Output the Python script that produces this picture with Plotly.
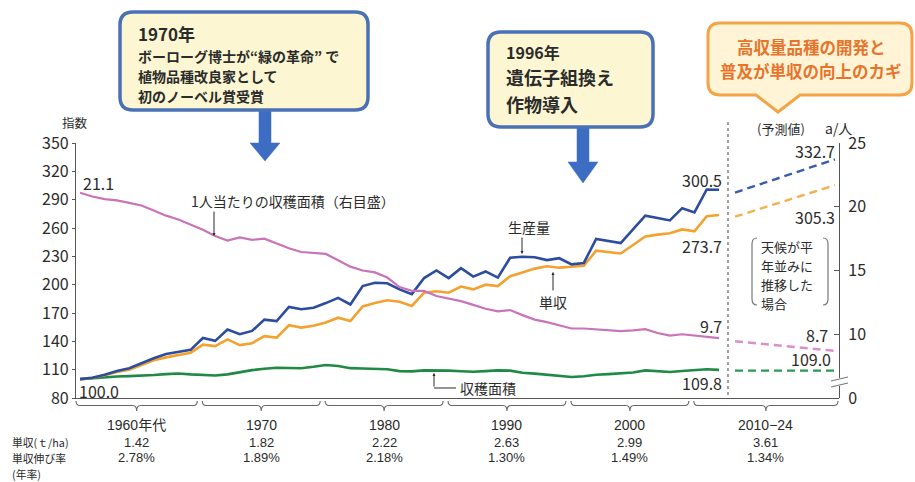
import plotly.graph_objects as go

FONT = "Noto Sans CJK JP"
NUM_FONT = "Liberation Sans"
INK = "#2b2b2b"
AXIS = "#555555"

# ---- world cereal indices (1961 = 100) and harvested area per person (a/person)
years = list(range(1961, 2014))
production = [100.0, 101.5, 104.5, 108.5, 111.5, 117.0, 122.0, 126.5, 129.0, 131.0,
              143.5, 140.5, 152.5, 147.5, 151.0, 163.0, 161.5, 176.5, 174.0, 175.5,
              180.5, 186.0, 179.0, 198.5, 202.0, 201.5, 195.0, 190.0, 207.0, 215.0,
              207.0, 217.5, 208.5, 214.0, 207.5, 228.5, 229.5, 229.0, 226.0, 228.0,
              221.5, 223.0, 248.5, 246.5, 244.0, 258.5, 273.0, 270.5, 268.0, 281.0,
              276.5, 300.8, 300.5]
yield_index = [100.0, 101.5, 104.0, 107.5, 110.0, 115.0, 120.0, 123.0, 125.5, 128.0,
               136.5, 135.0, 142.0, 136.0, 138.0, 145.5, 144.0, 157.0, 154.5, 156.5,
               160.0, 165.0, 161.5, 177.0, 180.5, 183.5, 182.0, 177.5, 191.5, 193.0,
               191.5, 198.0, 195.0, 200.0, 198.5, 209.0, 213.0, 217.0, 219.5, 218.0,
               219.0, 220.0, 236.0, 234.5, 233.0, 242.0, 251.0, 253.0, 254.5, 258.5,
               256.5, 272.5, 273.7]
harvest_area = [100.0, 101.2, 102.3, 102.8, 103.2, 103.5, 104.3, 105.3, 106.0, 105.0,
                104.4, 103.8, 105.0, 107.6, 109.5, 111.0, 112.0, 111.8, 111.5, 113.0,
                115.0, 113.8, 111.6, 111.3, 111.0, 110.5, 108.5, 108.2, 109.2, 109.5,
                109.0, 108.3, 107.8, 108.5, 109.3, 109.0, 106.8, 105.8, 104.6, 103.2,
                102.2, 103.0, 104.6, 105.3, 105.8, 107.0, 109.2, 108.6, 107.5, 108.6,
                109.8, 110.5, 109.8]
area_per_person = [21.1, 20.8, 20.6, 20.5, 20.3, 20.1, 19.7, 19.3, 19.0, 18.6,
                   18.2, 17.7, 17.35, 17.6, 17.4, 17.5, 17.1, 16.75, 16.45, 16.35,
                   16.3, 15.8, 15.3, 15.0, 14.85, 14.45, 13.7, 13.4, 13.4, 13.0,
                   12.8, 12.6, 12.3, 12.0, 11.8, 11.9, 11.5, 11.15, 10.95, 10.7,
                   10.45, 10.45, 10.4, 10.3, 10.25, 10.3, 10.4, 10.1, 9.9, 10.0,
                   9.9, 9.8, 9.7]

# ---- projection (normal weather)
proj_years = [2014, 2024]
proj_production = [297.5, 332.7]
proj_yield = [272.0, 305.3]
proj_area = [109.0, 109.0]
proj_per_person = [9.45, 8.7]

# ---- decade table under the axis
periods = ["1960年代", "1970", "1980", "1990", "2000", "2010−24"]
period_spans = [(1961, 1970), (1971, 1980), (1981, 1990), (1991, 2000), (2001, 2010), (2011, 2024)]
period_yield = ["1.42", "1.82", "2.22", "2.63", "2.99", "3.61"]
period_growth = ["2.78%", "1.89%", "2.18%", "1.30%", "1.49%", "1.34%"]
row_labels = ["単収(ｔ/ha)", "単収伸び率", "(年率)"]

left_ticks = list(range(80, 351, 30))
right_tickvals = [5, 10, 15, 20, 25]
right_ticktext = ["0", "10", "15", "20", "25"]

# ---- frame geometry (pixels)
W, H = 915, 482
ML, MR, MT, MB = 76, 76, 143, 84
PW, PH = W - ML - MR, H - MT - MB
BASE = H - MB
HIST_RANGE = [1960.67, 2013.73]
PROJ_RANGE = [2013.3, 2024.4]
SPLIT = (728 - ML) / PW


def px(x):
    return (x - ML) / PW


def py(y):
    return (BASE - y) / PH


def P(x, y):
    return f"{px(x):.5f},{py(y):.5f}"


def year_px(yr):
    if yr <= HIST_RANGE[1]:
        return ML + (yr - HIST_RANGE[0]) / (HIST_RANGE[1] - HIST_RANGE[0]) * SPLIT * PW
    return ML + SPLIT * PW + (yr - PROJ_RANGE[0]) / (PROJ_RANGE[1] - PROJ_RANGE[0]) * (1 - SPLIT) * PW


BLUE, ORANGE, PINK, GREEN = "#2c4c9e", "#f3a12f", "#c974b9", "#1f8a45"

fig = go.Figure()
common = dict(mode="lines", hoverinfo="skip", showlegend=False)
fig.add_trace(go.Scatter(x=years, y=area_per_person, xaxis="x", yaxis="y2",
                         line=dict(color=PINK, width=2.2), **common))
fig.add_trace(go.Scatter(x=years, y=harvest_area, line=dict(color=GREEN, width=2.6), **common))
fig.add_trace(go.Scatter(x=years, y=yield_index, line=dict(color=ORANGE, width=2.6), **common))
fig.add_trace(go.Scatter(x=years, y=production, line=dict(color=BLUE, width=2.6), **common))

DASH = "8px,5px"
fig.add_trace(go.Scatter(x=proj_years, y=proj_per_person, xaxis="x2", yaxis="y2",
                         line=dict(color="#d98fcb", width=2.4, dash=DASH), **common))
fig.add_trace(go.Scatter(x=proj_years, y=proj_area, xaxis="x2", yaxis="y",
                         line=dict(color="#2a9a55", width=2.4, dash=DASH), **common))
fig.add_trace(go.Scatter(x=proj_years, y=proj_yield, xaxis="x2", yaxis="y",
                         line=dict(color="#f2b04e", width=2.4, dash=DASH), **common))
fig.add_trace(go.Scatter(x=proj_years, y=proj_production, xaxis="x2", yaxis="y",
                         line=dict(color="#3a5cac", width=2.4, dash=DASH), **common))

shapes = []
anns = []


def text(s, x, y, size=14, color=INK, xa="left", ya="middle", bold=False, family=FONT):
    anns.append(dict(text=f"<b>{s}</b>" if bold else s, x=px(x), y=py(y),
                     xref="paper", yref="paper", xanchor=xa, yanchor=ya,
                     showarrow=False, font=dict(family=family, size=size, color=color)))


def path(d, line_color, width=1.0, fill=None, dash=None):
    shp = dict(type="path", path=d, xref="paper", yref="paper",
               line=dict(color=line_color, width=width))
    if fill:
        shp["fillcolor"] = fill
    if dash:
        shp["line"]["dash"] = dash
    shapes.append(shp)


def rounded_box(x0, y0, x1, y1, r, pointer=None):
    d = f"M{P(x0 + r, y0)} L{P(x1 - r, y0)} Q{P(x1, y0)} {P(x1, y0 + r)} L{P(x1, y1 - r)} Q{P(x1, y1)} {P(x1 - r, y1)} "
    if pointer:
        bx0, bx1, tx, ty = pointer
        d += f"L{P(bx1, y1)} L{P(tx, ty)} L{P(bx0, y1)} "
    d += f"L{P(x0 + r, y1)} Q{P(x0, y1)} {P(x0, y1 - r)} L{P(x0, y0 + r)} Q{P(x0, y0)} {P(x0 + r, y0)} Z"
    return d


def down_arrow(cx, top, neck, tip, stem=6, head=15):
    return (f"M{P(cx - stem, top)} L{P(cx + stem, top)} L{P(cx + stem, neck)} L{P(cx + head, neck)} "
            f"L{P(cx, tip)} L{P(cx - head, neck)} L{P(cx - stem, neck)} Z")


# ---- callouts
ARROW_BLUE = "#3d6dc2"
BOX_LINE = "#4a71b6"
BOX_FILL = "#fcf7d2"
path(down_arrow(265, 106, 143, 161), ARROW_BLUE, 0.5, ARROW_BLUE)
path(rounded_box(120, 12, 368, 110, 13), BOX_LINE, 3.5, BOX_FILL)
path(down_arrow(583, 123, 162, 183), ARROW_BLUE, 0.5, ARROW_BLUE)
path(rounded_box(488, 32, 653, 127, 13), BOX_LINE, 3.5, BOX_FILL)
path(rounded_box(708, 23, 912, 95, 12, pointer=(756, 800, 778, 112)), "#f2a447", 3, "#fff5d6")

text("1970年", 136, 33, 17, bold=True)
text("ボーローグ博士が“緑の革命” で", 136, 55.6, 14, bold=True)
text("植物品種改良家として", 136, 76, 14, bold=True)
text("初のノーベル賞受賞", 136, 96.4, 14, bold=True)

text("1996年", 504, 52, 16, bold=True)
text("遺伝子組換え", 504, 77.2, 18, bold=True)
text("作物導入", 504, 103.5, 18, bold=True)

ORANGE_TXT = "#e8732b"
text("高収量品種の開発と", 811, 47, 16.5, ORANGE_TXT, xa="center", bold=True)
text("普及が単収の向上のカギ", 811, 71, 16.5, ORANGE_TXT, xa="center", bold=True)

# ---- axis captions
text("指数", 75, 122, 12.5, xa="center")
text("(予測値)", 781, 128, 13, xa="center")
text("a/人", 838, 128, 14, xa="center")

# ---- projection separator and note
path(f"M{P(728, 122)} L{P(728, BASE)}", "#555555", 1.1, dash="dot")
path(f"M{P(757, 238)} Q{P(752, 238)} {P(752, 244)} L{P(752, 299)} Q{P(752, 305)} {P(757, 305)}", "#777777", 1.2)
path(f"M{P(823, 238)} Q{P(828, 238)} {P(828, 244)} L{P(828, 299)} Q{P(828, 305)} {P(823, 305)}", "#777777", 1.2)
for k, line in enumerate(["天候が平", "年並みに", "推移した", "場合"]):
    text(line, 759, 246 + 19 * k, 13)

# ---- broken right axis mark
path(f"M{P(834, 378)} L{P(846, 378)} L{P(846, 386)} L{P(834, 386)} Z", "white", 0, "white")
path(f"M{P(831, 381)} L{P(848, 377)}", "#777777", 1.1)
path(f"M{P(831, 387)} L{P(848, 383)}", "#777777", 1.1)

# ---- series captions with leaders
text("1人当たりの収穫面積（右目盛）", 189, 201, 14)
text("生産量", 529, 227, 14, xa="center")
text("単収", 553, 302, 14, xa="center")
text("収穫面積", 458, 388, 14)
path(f"M{P(434, 388)} L{P(456, 388)}", INK, 1.0)
for tip, dy in [((214, 236), -26), ((522, 254), -18), ((553, 272), 20), ((434, 373), 15)]:
    anns.append(dict(text="", x=px(tip[0]), y=py(tip[1]), xref="paper", yref="paper",
                     ax=0, ay=dy, showarrow=True, arrowhead=2, arrowsize=0.6,
                     arrowwidth=1, arrowcolor=INK))


def value_label(val, xr, yr, xv, xa, xs, ys):
    anns.append(dict(text=f"{val:.1f}", x=xv, y=val, xref=xr, yref=yr, xanchor=xa,
                     yanchor="middle", xshift=xs, yshift=ys, showarrow=False,
                     font=dict(family=FONT, size=16, color=INK)))


value_label(area_per_person[0], "x", "y2", years[0], "left", 1, 10)
value_label(production[0], "x", "y", years[0], "left", -3, -12)
value_label(production[-1], "x", "y", years[-1], "right", 5, 10)
value_label(yield_index[-1], "x", "y", years[-1], "right", 5, -31)
value_label(area_per_person[-1], "x", "y2", years[-1], "right", 5, 12)
value_label(harvest_area[-1], "x", "y", years[-1], "right", 5, -13)
value_label(proj_production[-1], "x2", "y", proj_years[-1], "right", 2, 8)
value_label(proj_yield[-1], "x2", "y", proj_years[-1], "right", 2, -32)
value_label(proj_per_person[-1], "x2", "y2", proj_years[-1], "right", -5, 16)
value_label(proj_area[-1], "x2", "y", proj_years[-1], "right", -2, 12)

# ---- decade braces and table
ROW_A, ROW_B, ROW_C, ROW_D = 424.5, 442.0, 457.8, 473.6
edges = []
for i, (s, e) in enumerate(period_spans):
    x0 = ML if i == 0 else edges[-1][1] + 5
    x1 = ML + PW - 1 if i == len(period_spans) - 1 else year_px(e + 0.5) + 0.5
    edges.append((x0, x1))
for (x0, x1), lab, yv, gv in zip(edges, periods, period_yield, period_growth):
    xm, r = (x0 + x1) / 2, 4
    y0, ym, yt = 401, 405.5, 411
    d = (f"M{P(x0, y0)} Q{P(x0, ym)} {P(x0 + r, ym)} L{P(xm - r, ym)} Q{P(xm, ym)} {P(xm, yt)} "
         f"Q{P(xm, ym)} {P(xm + r, ym)} L{P(x1 - r, ym)} Q{P(x1, ym)} {P(x1, y0)}")
    path(d, "#666666", 1.1)
    text(lab, xm, ROW_A, 14, xa="center", family=f"{NUM_FONT}, {FONT}")
    text(yv, xm, ROW_B, 13, xa="center", family=NUM_FONT)
    text(gv, xm, ROW_C, 13, xa="center", family=NUM_FONT)
for lab, row in zip(row_labels, [ROW_B, ROW_C, ROW_D]):
    text(lab, 10, row, 10.8)

fig.update_layout(
    width=W, height=H, margin=dict(l=ML, r=MR, t=MT, b=MB),
    paper_bgcolor="white", plot_bgcolor="white", showlegend=False,
    font=dict(family=FONT, color=INK),
    xaxis=dict(domain=[0, SPLIT], range=HIST_RANGE, showgrid=False, zeroline=False,
               showticklabels=False, ticks="", showline=True, linecolor=AXIS, linewidth=1.2),
    xaxis2=dict(domain=[SPLIT, 1], range=PROJ_RANGE, anchor="y", showgrid=False, zeroline=False,
                showticklabels=False, ticks="", showline=True, linecolor=AXIS, linewidth=1.2),
    yaxis=dict(range=[80, 350], tickvals=left_ticks, showgrid=False, zeroline=False,
               showline=True, linecolor=AXIS, linewidth=1.2, ticks="outside", ticklen=3,
               tickcolor=AXIS, tickfont=dict(size=16, color=INK, family=FONT)),
    yaxis2=dict(range=[5, 25], overlaying="y", side="right", anchor="free", position=1,
                tickvals=right_tickvals, ticktext=right_ticktext, showgrid=False, zeroline=False,
                showline=True, linecolor=AXIS, linewidth=1.2, ticks="inside", ticklen=5,
                tickcolor=AXIS, ticklabelstandoff=5, tickfont=dict(size=16, color=INK, family=FONT)),
    shapes=shapes, annotations=anns,
)

fig.write_html("out.html")
